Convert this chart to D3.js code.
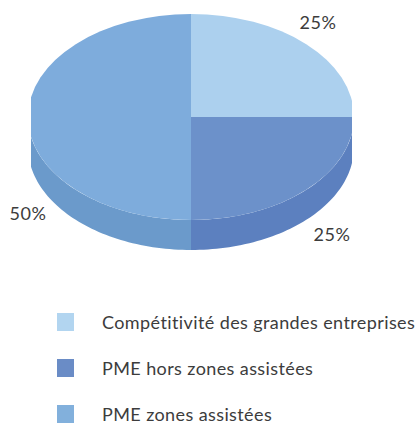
<!DOCTYPE html>
<html>
<head>
<meta charset="utf-8">
<script src="https://cdn.jsdelivr.net/npm/d3@7"></script>
<style>
  html, body { margin: 0; padding: 0; background: #ffffff; }
  svg { display: block; }
  text { font-family: Lato, "Open Sans", sans-serif; fill: #3c3c3c; }
</style>
</head>
<body>
<svg id="chart" width="420" height="425"></svg>
<script>
// ---- data ----
const categories = ["Compétitivité des grandes entreprises", "PME hors zones assistées", "PME zones assistées"];
const values = [25, 25, 50];
const valueLabels = ["25%", "25%", "50%"];

// ---- styles ----
const topColors = ["#acd0ee", "#6c91ca", "#7eacdc"];
const sideColors = ["#98bfe0", "#5c80bf", "#6b9acb"];
const legendColors = ["#b2d5f0", "#6a8cc6", "#82b0dc"];

// ---- layout ----
const W = 420, H = 425;
const cx = 191, cy = 117, rx = 163, ry = 103, depth = 30;
const clipX0 = 31, clipX1 = 352;
const labelOffsets = [[127, -95], [141, 117], [-163, 96]];

const svg = d3.select("#chart");

svg.append("defs").append("clipPath").attr("id", "pieclip")
  .append("rect").attr("x", clipX0).attr("y", 0)
  .attr("width", clipX1 - clipX0).attr("height", 300);

const pie = d3.pie().sort(null).value(d => d);
const arcs = pie(values);

const g = svg.append("g").attr("clip-path", "url(#pieclip)");

const ex = a => cx + rx * Math.sin(a);
const ey = a => cy - ry * Math.cos(a);

// sides (front half only)
const line = d3.line();
arcs.forEach((a, i) => {
  const s = Math.max(a.startAngle, Math.PI / 2);
  const e = Math.min(a.endAngle, 3 * Math.PI / 2);
  if (e <= s) return;
  const n = 60;
  const angs = d3.range(n + 1).map(k => s + (e - s) * k / n);
  const topPts = angs.map(t => [ex(t), ey(t)]);
  const botPts = angs.slice().reverse().map(t => [ex(t), ey(t) + depth]);
  g.append("path")
    .attr("d", line(topPts.concat(botPts)) + "Z")
    .attr("fill", sideColors[i]);
});

// top face
const arcGen = d3.arc().innerRadius(0).outerRadius(rx);
const topG = g.append("g")
  .attr("transform", `translate(${cx},${cy}) scale(1,${ry / rx})`);
topG.selectAll("path").data(arcs).join("path")
  .attr("d", arcGen)
  .attr("fill", (d, i) => topColors[i]);

// value labels
svg.selectAll("text.val").data(arcs).join("text")
  .attr("class", "val")
  .attr("x", (d, i) => cx + labelOffsets[i][0])
  .attr("y", (d, i) => cy + labelOffsets[i][1])
  .attr("text-anchor", "middle")
  .attr("dominant-baseline", "central")
  .attr("font-size", 18)
  .attr("letter-spacing", 0.5)
  .text((d, i) => valueLabels[i]);

// legend
const legY = d3.scalePoint().domain(categories).range([322, 414]);
const leg = svg.selectAll("g.leg").data(categories).join("g")
  .attr("class", "leg")
  .attr("transform", d => `translate(0,${legY(d)})`);
leg.append("rect")
  .attr("x", 57).attr("y", -9).attr("width", 17).attr("height", 18)
  .attr("fill", (d, i) => legendColors[i]);
leg.append("text")
  .attr("x", 102).attr("y", 0)
  .attr("dominant-baseline", "central")
  .attr("font-size", 18)
  .attr("letter-spacing", 0.4)
  .text(d => d);
</script>
</body>
</html>
